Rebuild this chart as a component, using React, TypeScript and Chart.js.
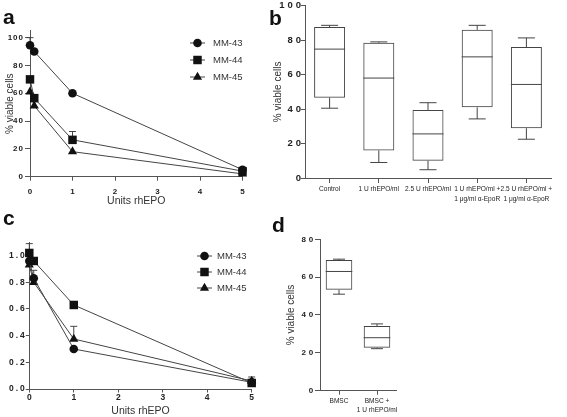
import React, { useEffect, useRef } from "react";
import { Chart, registerables } from "chart.js";

Chart.register(...registerables);

// ---------------- data ----------------
const doseUnits = [0, 0.1, 1, 5];
const lineSeriesNames = ["MM-43", "MM-44", "MM-45"];

// panel a: % viable cells
const viabilityMM43 = [94.5, 90, 60, 5];
const viabilityMM44 = [70, 56.5, 26.5, 4];
const viabilityMM45 = [61, 51, 18, 2];
const viabilityErrMM43 = [5.5, 0, 0, 0];
const viabilityErrMM44 = [0, 0, 6, 0];
const viabilityErrMM45 = [0, 0, 0, 0];

// panel c: relative viability
const relativeMM43 = [0.96, 0.83, 0.3, 0.05];
const relativeMM44 = [1.02, 0.96, 0.63, 0.045];
const relativeMM45 = [0.93, 0.8, 0.375, 0.06];
const relativeErrMM43 = [0, 0.06, 0, 0];
const relativeErrMM44 = [0.07, 0, 0, 0.045];
const relativeErrMM45 = [0, 0, 0.095, 0];

// panel b: box plots
const treatmentLabels = [
  ["Control"],
  ["1 U rhEPO/ml"],
  ["2.5 U rhEPO/ml"],
  ["1 U rhEPO/ml +", "1 μg/ml α-EpoR"],
  ["2.5 U rhEPO/ml +", "1 μg/ml α-EpoR"],
];
const treatmentMin = [40.5, 9, 4.8, 34.3, 22.5];
const treatmentQ1 = [46.6, 16, 10, 41, 28.9];
const treatmentMedian = [74.8, 58, 25.6, 70.3, 54.3];
const treatmentQ3 = [87.6, 78.5, 39.5, 86, 76];
const treatmentMax = [88.6, 79, 43.7, 88.6, 81.3];

// panel d: box plots
const bmscLabels = [["BMSC"], ["BMSC +", "1 U rhEPO/ml"]];
const bmscMin = [51, 22.2];
const bmscQ1 = [53.3, 22.7];
const bmscMedian = [63, 28];
const bmscQ3 = [69, 34.2];
const bmscMax = [69.5, 35.3];

// ---------------- styling ----------------
const SANS = "'Liberation Sans', Arial, Helvetica, sans-serif";
const AXIS = "#555";
const TEXT = "#222";
const LINE = "#444";
const MARK = "#111";
const pointStyles = ["circle", "rect", "triangle"];
const pointRadii = [4.3, 6, 5.3];

// ---------------- plugins ----------------
function drawSymbol(ctx: CanvasRenderingContext2D, style: string, x: number, y: number, r: number) {
  ctx.beginPath();
  if (style === "circle") {
    ctx.arc(x, y, r, 0, Math.PI * 2);
  } else if (style === "rect") {
    const s = r * Math.SQRT1_2;
    ctx.rect(x - s, y - s, 2 * s, 2 * s);
  } else {
    ctx.moveTo(x, y - r);
    ctx.lineTo(x + r * Math.sin((2 * Math.PI) / 3), y - r * Math.cos((2 * Math.PI) / 3));
    ctx.lineTo(x + r * Math.sin((4 * Math.PI) / 3), y - r * Math.cos((4 * Math.PI) / 3));
    ctx.closePath();
  }
  ctx.fill();
}

const errorBarPlugin = {
  id: "errorBars",
  beforeDatasetsDraw(chart: any) {
    const { ctx } = chart;
    const yScale = chart.scales.y;
    ctx.save();
    ctx.strokeStyle = LINE;
    ctx.lineWidth = 1;
    chart.data.datasets.forEach((ds: any, di: number) => {
      const errs: number[] = ds.errUp || [];
      const meta = chart.getDatasetMeta(di);
      meta.data.forEach((pt: any, i: number) => {
        const e = errs[i];
        if (!e) return;
        const v = ds.data[i].y + e;
        const yTop = yScale.getPixelForValue(v);
        ctx.beginPath();
        ctx.moveTo(pt.x, pt.y);
        ctx.lineTo(pt.x, yTop);
        ctx.moveTo(pt.x - 3.5, yTop);
        ctx.lineTo(pt.x + 3.5, yTop);
        ctx.stroke();
      });
    });
    ctx.restore();
  },
};

const customLegendPlugin = {
  id: "customLegend",
  afterDraw(chart: any, _a: any, opts: any) {
    if (!opts || !opts.ys) return;
    const { ctx } = chart;
    ctx.save();
    ctx.font = `9.5px ${SANS}`;
    ctx.textBaseline = "middle";
    ctx.textAlign = "left";
    lineSeriesNames.forEach((name, i) => {
      const y = opts.ys[i];
      ctx.strokeStyle = LINE;
      ctx.lineWidth = 1;
      ctx.beginPath();
      ctx.moveTo(opts.x0, y);
      ctx.lineTo(opts.x1, y);
      ctx.stroke();
      ctx.fillStyle = MARK;
      drawSymbol(ctx, pointStyles[i], opts.xs, y, pointRadii[i]);
      ctx.fillStyle = "#333";
      ctx.fillText(name, opts.xt, y + 0.5);
    });
    ctx.restore();
  },
};

const tickSpacingPlugin = {
  id: "tickSpacing",
  beforeDraw(chart: any, _a: any, opts: any) {
    const sp = opts && opts.y ? opts.y : 0;
    const s = chart.scales.y;
    if (!s || s.__patched || !sp) return;
    const orig = s.drawLabels;
    s.drawLabels = function (area: any) {
      const ctx = this.ctx;
      ctx.save();
      (ctx as any).letterSpacing = sp + "px";
      ctx.translate(sp, 0);
      orig.call(this, area);
      ctx.restore();
    };
    s.__patched = true;
  },
};

// condensed category labels (the original uses a narrow typeface)
const narrowLabelsPlugin = {
  id: "narrowLabels",
  afterDraw(chart: any, _a: any, opts: any) {
    if (!opts || !opts.size) return;
    const { ctx } = chart;
    const xs = chart.scales.x;
    const labels: any[] = chart.data.labels || [];
    ctx.save();
    ctx.fillStyle = TEXT;
    ctx.font = `${opts.size}px ${SANS}`;
    ctx.textAlign = "center";
    ctx.textBaseline = "middle";
    labels.forEach((lab, i) => {
      const lines: string[] = Array.isArray(lab) ? lab : [String(lab)];
      const x = xs.getPixelForTick(i);
      lines.forEach((line, j) => {
        ctx.save();
        ctx.translate(x, chart.chartArea.bottom + opts.offset + j * opts.lineGap);
        ctx.scale(opts.squeeze, 1);
        ctx.fillText(line, 0, 0);
        ctx.restore();
      });
    });
    ctx.restore();
  },
};

const boxWhiskerPlugin = {
  id: "boxWhiskers",
  afterDatasetsDraw(chart: any) {
    const ds: any = chart.data.datasets[0];
    if (!ds || !ds.whisker) return;
    const { ctx } = chart;
    const y = chart.scales.y;
    const wk = ds.whisker;
    const meta = chart.getDatasetMeta(0);
    ctx.save();
    ctx.strokeStyle = LINE;
    ctx.lineWidth = 1;
    meta.data.forEach((bar: any, i: number) => {
      const x = bar.x;
      const w = bar.width;
      const cw = w * wk.cap;
      const yMed = y.getPixelForValue(wk.med[i]);
      const yQ1 = y.getPixelForValue(wk.q1[i]);
      const yQ3 = y.getPixelForValue(wk.q3[i]);
      const yMin = y.getPixelForValue(wk.min[i]);
      const yMax = y.getPixelForValue(wk.max[i]);
      ctx.beginPath();
      ctx.moveTo(x - w / 2, yMed);
      ctx.lineTo(x + w / 2, yMed);
      ctx.moveTo(x, yQ3);
      ctx.lineTo(x, yMax);
      ctx.moveTo(x - cw / 2, yMax);
      ctx.lineTo(x + cw / 2, yMax);
      ctx.moveTo(x, yQ1);
      ctx.lineTo(x, yMin);
      ctx.moveTo(x - cw / 2, yMin);
      ctx.lineTo(x + cw / 2, yMin);
      ctx.stroke();
    });
    ctx.restore();
  },
};

// ---------------- configs ----------------
type LineOpts = {
  series: number[][];
  errs: number[][];
  yMax: number;
  yStep: number;
  yFmt: (v: number) => string;
  padTop: number;
  padRight: number;
  yWidth: number;
  xHeight: number;
  tickSize: number;
  ySpacing: number;
  yTickPad: number;
  yTickLen: number;
  xTickPad: number;
  xTickLen: number;
  yTitle: string | null;
  yTitlePad: number;
  xTitlePad: number;
  legend: { x0: number; x1: number; xs: number; xt: number; ys: number[] };
};

function lineConfig(o: LineOpts): any {
  return {
    type: "line",
    data: {
      datasets: o.series.map((vals, si) => ({
        label: lineSeriesNames[si],
        data: doseUnits.map((x, i) => ({ x, y: vals[i] })),
        errUp: o.errs[si],
        borderColor: LINE,
        borderWidth: 1,
        tension: 0,
        pointStyle: pointStyles[si],
        pointRadius: pointRadii[si],
        pointBackgroundColor: MARK,
        pointBorderColor: MARK,
        pointBorderWidth: 0,
        clip: false,
      })),
    },
    plugins: [errorBarPlugin, customLegendPlugin, tickSpacingPlugin],
    options: {
      animation: false,
      responsive: false,
      maintainAspectRatio: false,
      layout: { padding: { top: o.padTop, right: o.padRight, left: 0, bottom: 0 } },
      plugins: {
        legend: { display: false },
        tooltip: { enabled: false },
        customLegend: o.legend,
        tickSpacing: { y: o.ySpacing },
      },
      scales: {
        x: {
          type: "linear",
          min: 0,
          max: 5,
          ticks: {
            stepSize: 1,
            color: TEXT,
            padding: o.xTickPad,
            font: { family: SANS, size: o.tickSize, weight: "bold" },
            maxRotation: 0,
          },
          grid: { display: true, drawOnChartArea: false, tickLength: o.xTickLen, color: AXIS },
          border: { display: true, color: AXIS, width: 1 },
          title: {
            display: true,
            text: "Units rhEPO",
            color: "#333",
            font: { family: SANS, size: 10.5 },
            padding: { top: 0, bottom: o.xTitlePad },
          },
          afterFit: (s: any) => {
            s.height = o.xHeight;
          },
        },
        y: {
          min: 0,
          max: o.yMax,
          ticks: {
            stepSize: o.yStep,
            includeBounds: false,
            color: TEXT,
            padding: o.yTickPad,
            font: { family: SANS, size: o.tickSize, weight: "bold" },
            callback: (v: any) => o.yFmt(Number(v)),
          },
          grid: { display: true, drawOnChartArea: false, tickLength: o.yTickLen, color: AXIS },
          border: { display: true, color: AXIS, width: 1 },
          title: {
            display: !!o.yTitle,
            text: o.yTitle || "",
            color: "#333",
            font: { family: SANS, size: 10 },
            padding: { top: o.yTitlePad, bottom: 0 },
          },
          afterFit: (s: any) => {
            s.width = o.yWidth;
          },
        },
      },
    },
  };
}

type BoxOpts = {
  labels: string[][];
  min: number[];
  q1: number[];
  med: number[];
  q3: number[];
  max: number[];
  barPct: number;
  cap: number;
  yMax: number;
  padTop: number;
  padRight: number;
  yWidth: number;
  xHeight: number;
  yTickSize: number;
  ySpacing: number;
  yTickPad: number;
  yTickLen: number;
  xTickLen: number;
  labelOffset: number;
  labelGap: number;
  yTitlePad: number;
};

function boxConfig(o: BoxOpts): any {
  return {
    type: "bar",
    data: {
      labels: o.labels,
      datasets: [
        {
          data: o.q1.map((q, i) => [q, o.q3[i]]),
          whisker: { min: o.min, q1: o.q1, med: o.med, q3: o.q3, max: o.max, cap: o.cap },
          backgroundColor: "rgba(255,255,255,0)",
          borderColor: LINE,
          borderWidth: 1,
          borderSkipped: false,
          barPercentage: o.barPct,
          categoryPercentage: 1,
        },
      ],
    },
    plugins: [boxWhiskerPlugin, tickSpacingPlugin, narrowLabelsPlugin],
    options: {
      animation: false,
      responsive: false,
      maintainAspectRatio: false,
      layout: { padding: { top: o.padTop, right: o.padRight, left: 0, bottom: 0 } },
      plugins: {
        legend: { display: false },
        tooltip: { enabled: false },
        tickSpacing: { y: o.ySpacing },
        narrowLabels: { size: 8, squeeze: 0.82, offset: o.labelOffset, lineGap: o.labelGap },
      },
      scales: {
        x: {
          ticks: { display: false, autoSkip: false },
          grid: { display: true, drawOnChartArea: false, offset: false, tickLength: o.xTickLen, color: AXIS },
          border: { display: true, color: AXIS, width: 1 },
          afterFit: (s: any) => {
            s.height = o.xHeight;
          },
        },
        y: {
          min: 0,
          max: o.yMax,
          ticks: {
            stepSize: 20,
            color: TEXT,
            padding: o.yTickPad,
            font: { family: SANS, size: o.yTickSize, weight: "bold" },
          },
          grid: { display: true, drawOnChartArea: false, tickLength: o.yTickLen, color: AXIS },
          border: { display: true, color: AXIS, width: 1 },
          title: {
            display: true,
            text: "% viable cells",
            color: "#333",
            font: { family: SANS, size: 10 },
            padding: { top: o.yTitlePad, bottom: 0 },
          },
          afterFit: (s: any) => {
            s.width = o.yWidth;
          },
        },
      },
    },
  };
}

// ---------------- components ----------------
function ChartCanvas(props: { left: number; top: number; width: number; height: number; build: () => any }) {
  const ref = useRef<HTMLCanvasElement>(null);
  useEffect(() => {
    const chart = new Chart(ref.current as HTMLCanvasElement, props.build());
    return () => chart.destroy();
  }, []);
  return (
    <canvas
      ref={ref}
      width={props.width}
      height={props.height}
      style={{ position: "absolute", left: props.left, top: props.top, width: props.width, height: props.height }}
    />
  );
}

function PanelLabel(props: { text: string; left: number; top: number }) {
  return (
    <div
      style={{
        position: "absolute",
        left: props.left,
        top: props.top,
        font: `bold 21px ${SANS}`,
        lineHeight: "21px",
        color: "#111",
      }}
    >
      {props.text}
    </div>
  );
}

export default function App() {
  return (
    <div
      style={{
        position: "fixed",
        left: 0,
        top: 0,
        width: 567,
        height: 417,
        background: "#fff",
        overflow: "hidden",
      }}
    >
      <ChartCanvas
        left={0}
        top={0}
        width={280}
        height={212}
        build={() =>
          lineConfig({
            series: [viabilityMM43, viabilityMM44, viabilityMM45],
            errs: [viabilityErrMM43, viabilityErrMM44, viabilityErrMM45],
            yMax: 105,
            yStep: 20,
            yFmt: (v) => String(Math.round(v)),
            padTop: 30.7,
            padRight: 37.5,
            yWidth: 30,
            xHeight: 212 - 176.7,
            tickSize: 8,
            ySpacing: 1,
            yTickPad: 2,
            yTickLen: 5,
            xTickPad: 6,
            xTickLen: 4,
            yTitle: "% viable cells",
            yTitlePad: 4,
            xTitlePad: 5,
            legend: { x0: 190, x1: 205, xs: 197.5, xt: 213, ys: [43, 60, 77] },
          })
        }
      />
      <ChartCanvas
        left={0}
        top={210}
        width={280}
        height={207}
        build={() =>
          lineConfig({
            series: [relativeMM43, relativeMM44, relativeMM45],
            errs: [relativeErrMM43, relativeErrMM44, relativeErrMM45],
            yMax: 1.1,
            yStep: 0.2,
            yFmt: (v) => v.toFixed(1),
            padTop: 32.3,
            padRight: 28.3,
            yWidth: 29.3,
            xHeight: 28,
            tickSize: 8.5,
            ySpacing: 2,
            yTickPad: 1,
            yTickLen: 3.5,
            xTickPad: 0,
            xTickLen: 3.5,
            yTitle: null,
            yTitlePad: 0,
            xTitlePad: 0,
            legend: { x0: 197, x1: 212, xs: 204.5, xt: 217, ys: [46, 62, 78] },
          })
        }
      />
      <ChartCanvas
        left={260}
        top={0}
        width={307}
        height={212}
        build={() =>
          boxConfig({
            labels: treatmentLabels,
            min: treatmentMin,
            q1: treatmentQ1,
            med: treatmentMedian,
            q3: treatmentQ3,
            max: treatmentMax,
            barPct: 0.63,
            cap: 0.55,
            yMax: 100,
            padTop: 5,
            padRight: 16,
            yWidth: 45,
            xHeight: 212 - 178,
            yTickSize: 9.5,
            ySpacing: 3,
            yTickPad: 0,
            yTickLen: 4,
            xTickLen: 5,
            labelOffset: 11,
            labelGap: 10,
            yTitlePad: 12,
          })
        }
      />
      <ChartCanvas
        left={260}
        top={210}
        width={307}
        height={207}
        build={() =>
          boxConfig({
            labels: bmscLabels,
            min: bmscMin,
            q1: bmscQ1,
            med: bmscMedian,
            q3: bmscQ3,
            max: bmscMax,
            barPct: 0.7,
            cap: 0.45,
            yMax: 80,
            padTop: 29.3,
            padRight: 171,
            yWidth: 60,
            xHeight: 207 - 180.7,
            yTickSize: 8,
            ySpacing: 3,
            yTickPad: 1.7,
            yTickLen: 5,
            xTickLen: 4,
            labelOffset: 10,
            labelGap: 9,
            yTitlePad: 25,
          })
        }
      />
      <PanelLabel text="a" left={3} top={5.5} />
      <PanelLabel text="b" left={269} top={7.2} />
      <PanelLabel text="c" left={3} top={207} />
      <PanelLabel text="d" left={272} top={214} />
    </div>
  );
}
